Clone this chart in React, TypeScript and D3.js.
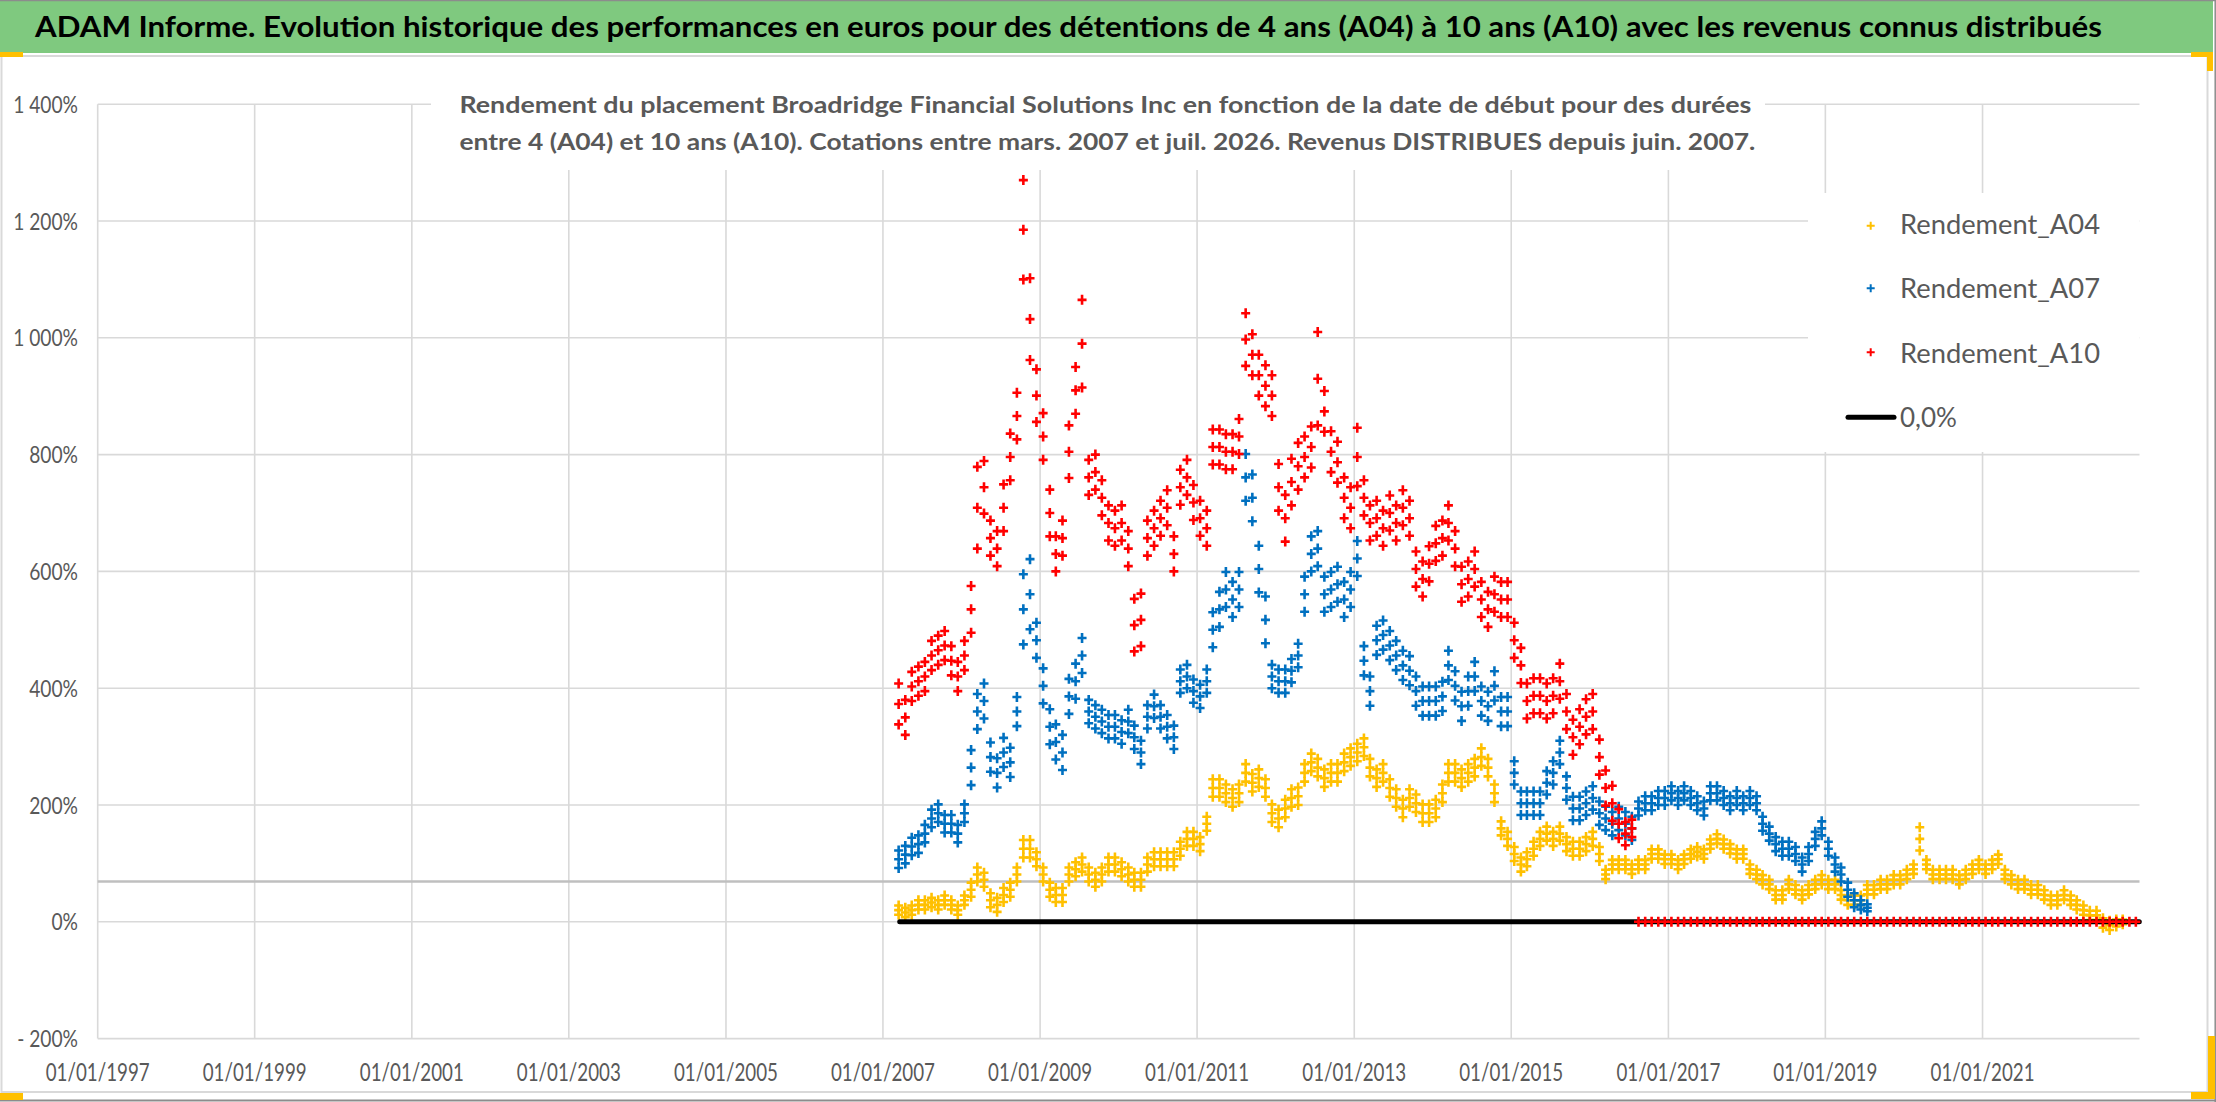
import React from "react";
import * as d3 from "d3";

// ---------- texts ----------
const titleText =
  "ADAM Informe. Evolution historique des performances en euros pour des détentions de 4 ans (A04) à 10 ans (A10) avec les revenus connus distribués";
const subtitleLines = [
  "Rendement du placement Broadridge Financial Solutions Inc en fonction de la date de début pour des durées",
  "entre 4 (A04) et 10 ans (A10). Cotations entre mars. 2007 et juil. 2026. Revenus DISTRIBUES depuis juin. 2007.",
];

// ---------- axes ----------
const yTickValues = [-200, 0, 200, 400, 600, 800, 1000, 1200, 1400];
const yTickLabels = ["- 200%", "0%", "200%", "400%", "600%", "800%", "1 000%", "1 200%", "1 400%"];
const xTickYears = [1997, 1999, 2001, 2003, 2005, 2007, 2009, 2011, 2013, 2015, 2017, 2019, 2021];
const xTickLabels = xTickYears.map((yr) => `01/01/${yr}`);
const xDomain = ["1997-01-01", "2023-01-01"];
const yDomain = [-200, 1400];
const axisCrossValue = 69; // grey horizontal axis line

// ---------- series ----------
const seriesNames = ["Rendement_A04", "Rendement_A07", "Rendement_A10", "0,0%"];
const seriesColors = ["#FFC000", "#0070C0", "#FF0000", "#000000"];
const firstMonth = "2007-03-15"; // one value per month from March 2007

// monthly central level of each cloud (%)
const a04 = [
  20, 16, 20, 29, 29, 33, 29, 37, 29, 20, 37, 55, 81, 72, 37, 29, 46, 55, 81, 125,
  125, 107, 81, 55, 46, 46, 81, 90, 98, 81, 72, 81, 98, 98, 90, 81, 72, 72, 98, 107,
  107, 107, 107, 125, 142, 142, 133, 168, 229, 229, 220, 212, 220, 255, 238, 246, 229, 186, 177, 194,
  212, 215, 255, 273, 264, 246, 255, 255, 273, 282, 290, 299, 264, 246, 255, 229, 212, 194, 212, 203,
  186, 186, 194, 220, 255, 255, 246, 255, 264, 282, 264, 220, 160, 142, 116, 98, 107, 125, 142, 151,
  142, 151, 133, 125, 125, 133, 142, 116, 81, 98, 98, 98, 90, 98, 98, 116, 116, 107, 107, 98,
  107, 116, 120, 116, 133, 142, 133, 125, 116, 116, 90, 81, 72, 64, 46, 46, 64, 55, 46, 55,
  64, 72, 64, 64, 46, 37, 37, 37, 55, 55, 64, 64, 72, 72, 81, 90, 142, 98, 81, 81,
  81, 81, 72, 81, 90, 98, 90, 98, 107, 81, 72, 64, 64, 55, 55, 46, 37, 37, 46, 37,
  29, 20, 11, 11, -2, -6, -2, 0,
];
// monthly half-height of the cloud (%)
const a04Spread = [
  8, 8, 8, 8, 8, 8, 8, 8, 8, 8, 8, 12, 12, 12, 12, 12, 12, 12, 12, 15,
  15, 12, 12, 12, 12, 12, 12, 12, 12, 12, 12, 12, 12, 12, 12, 12, 12, 12, 12, 12,
  12, 12, 12, 12, 12, 12, 12, 12, 15, 15, 15, 15, 15, 15, 15, 15, 15, 15, 15, 15,
  15, 15, 15, 15, 15, 15, 15, 15, 15, 15, 15, 15, 15, 15, 15, 15, 15, 15, 15, 15,
  15, 15, 15, 15, 15, 15, 15, 15, 15, 15, 15, 15, 12, 12, 12, 12, 12, 12, 12, 12,
  12, 12, 12, 12, 12, 12, 12, 12, 8, 8, 8, 8, 8, 8, 8, 8, 8, 8, 8, 8,
  8, 8, 8, 8, 8, 8, 8, 8, 8, 8, 8, 8, 8, 8, 8, 8, 8, 8, 8, 8,
  8, 8, 8, 8, 8, 8, 8, 8, 8, 8, 8, 8, 8, 8, 8, 8, 20, 8, 8, 8,
  8, 8, 8, 8, 8, 8, 8, 8, 8, 8, 8, 8, 8, 8, 8, 8, 8, 8, 8, 8,
  8, 8, 8, 8, 8, 8, 6, 4,
];

const a07 = [
  107, 115, 129, 133, 151, 177, 186, 168, 168, 151, 186, 264, 360, 378, 282, 255, 290, 273, 360, 535,
  561, 482, 404, 334, 308, 290, 386, 412, 456, 360, 351, 343, 334, 334, 325, 343, 316, 290, 351, 369,
  351, 334, 316, 412, 420, 395, 386, 412, 500, 535, 569, 552, 569, 761, 726, 604, 517, 420, 412, 412,
  430, 456, 561, 630, 639, 561, 569, 578, 552, 569, 622, 447, 395, 482, 491, 473, 456, 439, 430, 395,
  378, 378, 378, 386, 439, 404, 369, 395, 420, 378, 369, 404, 360, 360, 255, 203, 203, 203, 203, 238,
  255, 290, 229, 194, 194, 203, 212, 186, 177, 168, 177, 168, 160, 194, 203, 203, 212, 212, 220, 212,
  220, 212, 203, 194, 220, 220, 212, 203, 212, 203, 212, 203, 168, 151, 133, 125, 125, 116, 98, 116,
  142, 160, 125, 98, 81, 55, 37, 29, 24,
];
const a07Spread = [
  15, 15, 15, 15, 15, 15, 15, 15, 15, 15, 15, 30, 30, 30, 25, 25, 25, 25, 25, 60,
  60, 30, 30, 30, 30, 30, 30, 30, 30, 20, 20, 20, 20, 20, 20, 20, 20, 20, 20, 20,
  20, 20, 20, 20, 20, 20, 20, 20, 30, 30, 30, 30, 30, 40, 40, 40, 40, 20, 20, 20,
  20, 20, 30, 30, 30, 30, 30, 30, 30, 30, 30, 25, 25, 25, 25, 25, 25, 25, 25, 25,
  25, 25, 25, 25, 25, 25, 25, 25, 25, 25, 25, 25, 25, 25, 20, 20, 20, 20, 20, 20,
  20, 20, 20, 20, 20, 20, 20, 20, 20, 20, 20, 20, 20, 12, 12, 12, 12, 12, 12, 12,
  12, 12, 12, 12, 12, 12, 12, 12, 12, 12, 12, 12, 12, 12, 12, 12, 12, 12, 12, 12,
  12, 12, 12, 12, 12, 12, 12, 8, 6,
];

const a10 = [
  373, 350, 403, 412, 420, 456, 465, 473, 447, 420, 456, 535, 709, 744, 657, 639, 709, 796, 866, 1185,
  1032, 901, 831, 700, 630, 657, 805, 910, 990, 761, 770, 726, 683, 674, 683, 639, 508, 517, 657, 674,
  691, 709, 630, 744, 761, 718, 691, 674, 813, 813, 805, 805, 831, 997, 971, 936, 918, 901, 744, 691,
  753, 780, 796, 813, 930, 874, 805, 787, 726, 709, 796, 726, 683, 691, 674, 700, 683, 709, 691, 604,
  587, 613, 648, 657, 683, 639, 578, 587, 604, 552, 535, 561, 552, 552, 482, 439, 378, 387, 387, 378,
  387, 412, 360, 316, 334, 351, 360, 282, 229, 203, 168, 151, 160,
];
const a10Spread = [
  35, 30, 25, 25, 25, 25, 25, 25, 25, 25, 25, 40, 70, 45, 30, 30, 40, 40, 40, 85,
  70, 45, 40, 40, 30, 30, 45, 40, 75, 30, 30, 30, 30, 30, 30, 30, 45, 45, 30, 30,
  30, 30, 30, 30, 30, 30, 30, 30, 30, 30, 30, 30, 30, 45, 35, 35, 35, 35, 40, 40,
  40, 40, 35, 35, 80, 35, 35, 35, 35, 35, 50, 30, 30, 30, 30, 30, 30, 30, 30, 30,
  30, 30, 30, 30, 30, 30, 30, 30, 30, 30, 30, 30, 30, 30, 30, 30, 30, 30, 30, 30,
  30, 30, 30, 30, 30, 30, 30, 30, 30, 30, 25, 20, 15,
];

// A10 values reported as 0 after the last computable start date (Aug. 2016 onwards)
const a10Zeros = [
  0, 0, 0, 0, 0, 0, 0, 0, 0, 0, 0, 0, 0, 0, 0, 0, 0, 0, 0, 0,
  0, 0, 0, 0, 0, 0, 0, 0, 0, 0, 0, 0, 0, 0, 0, 0, 0, 0, 0, 0,
  0, 0, 0, 0, 0, 0, 0, 0, 0, 0, 0, 0, 0, 0, 0, 0, 0, 0, 0, 0,
  0, 0, 0, 0, 0, 0, 0, 0, 0, 0, 0, 0, 0, 0, 0, 0, 0,
];

const zeroLineDates = ["2007-03-20", "2022-12-31"];
const zeroLineValues = [0, 0];

// ---------- layout ----------
const W = 2216;
const H = 1102;
const PL = 97.7;
const PR = 2139.5;
const PT = 104.2;
const PB = 1038.6;
const FONT = "Lato, 'Open Sans', 'Liberation Sans', sans-serif";
const GREY_TEXT = "#595959";
const PLUS = "M-4.5,0H4.5M0,-5V5";
const PLUS_LEGEND = "M-4,0H4M0,-4V4";

export default function App() {
  const x = d3
    .scaleTime()
    .domain(xDomain.map((d) => new Date(d + "T00:00:00")))
    .range([PL, PR]);
  const y = d3.scaleLinear().domain(yDomain).range([PB, PT]);
  const start = new Date(firstMonth + "T00:00:00");
  const monthDate = (i: number) => d3.timeMonth.offset(start, i);

  const zeroLine = d3
    .line<number>()
    .x((_, i) => x(new Date(zeroLineDates[i] + "T00:00:00")))
    .y((v) => y(v));

  const cloud = (vals: number[], spread: number[] | null, color: string, offset = 0) => {
    const pts: { d: Date; v: number }[] = [];
    vals.forEach((v, i) => {
      const d = monthDate(i + offset);
      const s = spread ? spread[i] : 0;
      if (s > 0) {
        pts.push({ d, v: v - s });
        pts.push({ d, v: v + s });
      }
      pts.push({ d, v });
    });
    return (
      <g stroke={color} strokeWidth={2.6} fill="none">
        {pts.map((p, i) => (
          <path key={i} d={PLUS} transform={`translate(${x(p.d).toFixed(2)},${y(p.v).toFixed(2)})`} />
        ))}
      </g>
    );
  };

  const legendRows = [225.7, 288.3, 352.3, 417.3];
  const legendBase = [234.3, 298.3, 363.3, 426.7];

  return (
    <svg
      width={W}
      height={H}
      viewBox={`0 0 ${W} ${H}`}
      style={{ position: "absolute", left: 0, top: 0, background: "#fff" }}
      fontFamily={FONT}
    >
      <rect x={0} y={0} width={W} height={H} fill="#fff" />
      {/* chart area border */}
      <rect x={1.5} y={56} width={2206} height={1036} fill="#fff" stroke="#d9d9d9" strokeWidth={2} />
      {/* title band */}
      <rect x={0} y={1} width={2213} height={52} fill="#7FC97F" />
      <text x={35} y={36.5} fontSize={29} fontWeight={700} fill="#000" textLength={2067} lengthAdjust="spacingAndGlyphs">
        {titleText}
      </text>
      {/* outer borders */}
      <line x1={0} x2={W} y1={0.5} y2={0.5} stroke="#8c8c8c" strokeWidth={1.5} />
      <line x1={W - 0.8} x2={W - 0.8} y1={0} y2={H} stroke="#8c8c8c" strokeWidth={1.5} />
      <line x1={0} x2={W} y1={1100.5} y2={1100.5} stroke="#8c8c8c" strokeWidth={2} />
      {/* selection handles */}
      <g fill="#FFC000">
        <rect x={0} y={52} width={23} height={5} />
        <rect x={2191} y={52} width={22} height={5} />
        <rect x={2207} y={52} width={6} height={19} />
        <rect x={2208} y={1036} width={7} height={63} />
        <rect x={2191} y={1092} width={24} height={7} />
        <rect x={0} y={1093} width={23} height={7} />
      </g>

      {/* gridlines */}
      <g stroke="#d9d9d9" strokeWidth={1.6}>
        {yTickValues.map((v) => (
          <line key={v} x1={PL} x2={PR} y1={y(v)} y2={y(v)} />
        ))}
        {xTickYears.map((yr) => {
          const xx = x(new Date(yr, 0, 1));
          return <line key={yr} x1={xx} x2={xx} y1={PT} y2={PB} />;
        })}
      </g>
      <line x1={PL} x2={PR} y1={y(axisCrossValue)} y2={y(axisCrossValue)} stroke="#bfbfbf" strokeWidth={2.5} />

      {/* y tick labels */}
      <g fill={GREY_TEXT} fontSize={24}>
        {yTickValues.map((v, i) => (
          <text key={v} transform={`translate(78,${y(v) + 8.5}) scale(0.8,1)`} textAnchor="end">
            {yTickLabels[i]}
          </text>
        ))}
      </g>
      {/* x tick labels */}
      <g fill={GREY_TEXT} fontSize={25}>
        {xTickYears.map((yr, i) => (
          <text
            key={yr}
            x={x(new Date(yr, 0, 1))}
            y={1081.3}
            textAnchor="middle"
            textLength={104}
            lengthAdjust="spacingAndGlyphs"
          >
            {xTickLabels[i]}
          </text>
        ))}
      </g>

      {/* subtitle box */}
      <rect x={431} y={84} width={1334} height={86} fill="#fff" />
      <g fill={GREY_TEXT} fontSize={23} fontWeight={700}>
        <text x={459.4} y={113.3} textLength={1292} lengthAdjust="spacingAndGlyphs">
          {subtitleLines[0]}
        </text>
        <text x={459.4} y={149.5} textLength={1296} lengthAdjust="spacingAndGlyphs">
          {subtitleLines[1]}
        </text>
      </g>

      {/* legend */}
      <rect x={1808} y={193} width={331.5} height={259} fill="#fff" />
      {[0, 1, 2].map((k) => (
        <path
          key={k}
          d={PLUS_LEGEND}
          transform={`translate(1870.7,${legendRows[k]})`}
          stroke={seriesColors[k]}
          strokeWidth={2}
          fill="none"
        />
      ))}
      <line x1={1848} x2={1894} y1={legendRows[3]} y2={legendRows[3]} stroke="#000" strokeWidth={5} strokeLinecap="round" />
      <g fill={GREY_TEXT} fontSize={27}>
        {seriesNames.map((n, k) => (
          <text key={n} x={1900} y={legendBase[k]} textLength={k < 3 ? 200 : 57} lengthAdjust="spacingAndGlyphs">
            {n}
          </text>
        ))}
      </g>

      {/* data */}
      {cloud(a04, a04Spread, seriesColors[0])}
      {cloud(a07, a07Spread, seriesColors[1])}
      <path d={zeroLine(zeroLineValues) || ""} stroke={seriesColors[3]} strokeWidth={5} fill="none" strokeLinecap="round" />
      {cloud(a10, a10Spread, seriesColors[2])}
      {cloud(a10Zeros, null, seriesColors[2], a10.length)}
    </svg>
  );
}
